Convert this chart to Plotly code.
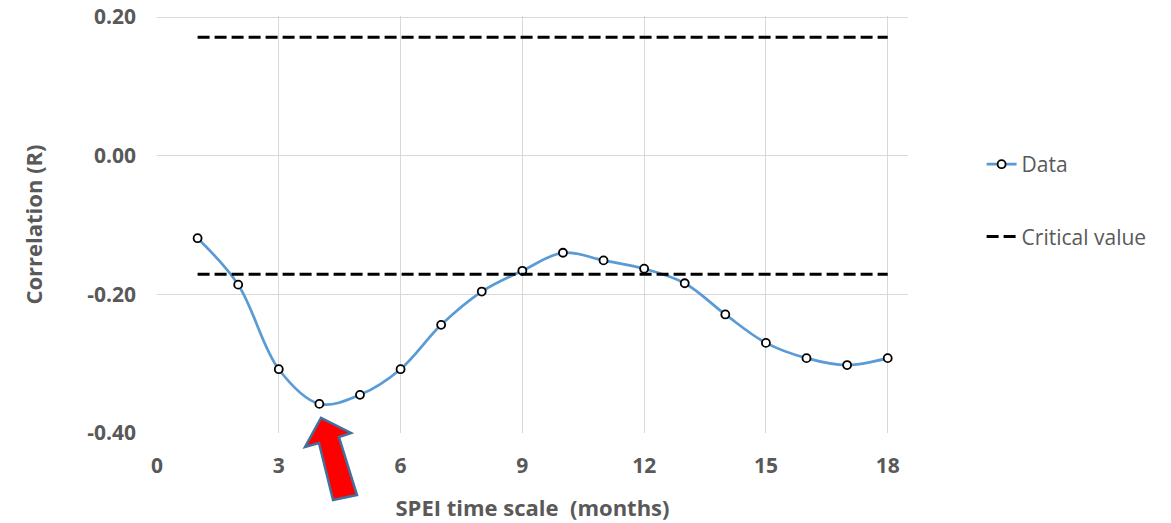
import plotly.graph_objects as go

# Data
months = list(range(1, 19))
correlation = [-0.119, -0.186, -0.308, -0.358, -0.345, -0.308, -0.244, -0.196, -0.166,
               -0.140, -0.151, -0.163, -0.184, -0.229, -0.270, -0.292, -0.302, -0.292]
critical_value = 0.171
critical_x = [1, 18]

x_ticks = [0, 3, 6, 9, 12, 15, 18]
y_ticks = [0.20, 0.00, -0.20, -0.40]
y_tick_labels = ["0.20", "0.00", "-0.20", "-0.40"]

W, H = 1171, 523
OFF = 8  # page body offset
L, R, T, B = 149, 271, 8, 98
PW, PH = W - L - R, H - T - B
Y_RANGE = [-0.4, 0.2015]

def px(xp, yp):
    return (xp - OFF - L) / PW, (H - B - (yp - OFF)) / PH

FONT = "Open Sans"
GRAY = "#595959"

fig = go.Figure()

fig.add_trace(go.Scatter(
    x=months, y=correlation, mode="lines+markers", name="Data",
    line=dict(color="#5B9BD5", width=2.7, shape="spline", smoothing=1.0),
    marker=dict(size=8, color="white", line=dict(color="black", width=1.8)),
    legendgroup="a",
))

cx = critical_x + [None] + critical_x
cy = [critical_value, critical_value, None, -critical_value, -critical_value]
fig.add_trace(go.Scatter(
    x=cx, y=cy, mode="lines", name="Critical value",
    line=dict(color="black", width=3, dash="12px,5px"),
    legendgroup="b",
))

# Red arrow pointing at the minimum
arrow_px = [(321, 418), (351, 433), (339, 437), (357, 495), (333, 500), (319, 443), (305, 447)]
pts = [px(a, b) for a, b in arrow_px]
path = "M " + " L ".join(f"{a:.4f},{b:.4f}" for a, b in pts) + " Z"
fig.add_shape(type="path", path=path, xref="paper", yref="paper",
              fillcolor="#FF0000", line=dict(color="#41719C", width=2.5), layer="above")

fig.update_layout(
    width=W, height=H,
    margin=dict(l=L, r=R, t=T, b=B, autoexpand=False),
    paper_bgcolor="white", plot_bgcolor="white",
    font=dict(family=FONT, color=GRAY),
    showlegend=True,
    legend=dict(x=1.098, y=0.693, xanchor="left", yanchor="top",
                font=dict(size=21, color=GRAY, family=FONT),
                traceorder="grouped", tracegroupgap=42,
                bgcolor="rgba(0,0,0,0)"),
    xaxis=dict(range=[0, 18.5], tickvals=x_ticks, ticktext=[str(v) for v in x_ticks],
               showgrid=True, gridcolor="#D9D9D9", gridwidth=1,
               zeroline=False, showline=False, ticks="", automargin=False,
               ticklabelstandoff=18, ticklabeloverflow="allow",
               tickfont=dict(size=21, family=FONT, color=GRAY, weight="bold"),
               title=dict(text="SPEI time scale  (months)", standoff=22,
                          font=dict(size=22, family=FONT, color=GRAY, weight="bold"))),
    yaxis=dict(range=Y_RANGE, tickvals=y_ticks, ticktext=y_tick_labels,
               showgrid=True, gridcolor="#D9D9D9", gridwidth=1,
               zeroline=False, showline=False, ticks="", automargin=False,
               ticklabelstandoff=20, ticklabeloverflow="allow",
               tickfont=dict(size=21, family=FONT, color=GRAY, weight="bold"),
               title=dict(text="Correlation (R)", standoff=38,
                          font=dict(size=22, family=FONT, color=GRAY, weight="bold"))),
)

fig.write_html("out.html")
